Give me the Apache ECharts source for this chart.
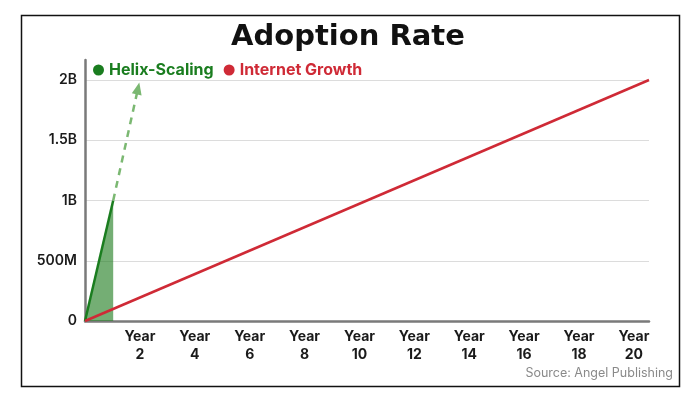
<!DOCTYPE html>
<html><head><meta charset="utf-8">
<script src="https://cdn.jsdelivr.net/npm/echarts@6/dist/echarts.min.js"></script>
<style>html,body{margin:0;padding:0;background:#fff}#c{width:696px;height:397px}</style>
</head><body><div id="c"></div>
<script>
// Data
const helixYears = [0, 1];
const helixValues = [0, 1e9];
const helixProjectionYears = [1, 1.88];
const helixProjectionValues = [1e9, 1.93e9];
const internetYears = [0, 20];
const internetValues = [0, 2e9];
const xTickLabels = [2, 4, 6, 8, 10, 12, 14, 16, 18, 20];
const yTickValues = [0, 5e8, 1e9, 1.5e9, 2e9];
const yTickLabels = ['0', '500M', '1B', '1.5B', '2B'];

const FONT = 'Inter';
const chart = echarts.init(document.getElementById('c'), null, {renderer: 'canvas'});
const zip = (a, b) => a.map((v, i) => [v, b[i]]);

chart.setOption({
  animation: false,
  backgroundColor: '#fff',
  title: {
    text: 'Adoption Rate', left: 'center', top: 18,
    textStyle: {fontFamily: 'DejaVu Sans', fontWeight: 'bold', fontSize: 29, color: '#111'}
  },
  legend: {
    left: 88, top: 57, icon: 'circle', itemWidth: 11, itemHeight: 11, itemGap: 10,
    textStyle: {fontFamily: FONT, fontWeight: 700, fontSize: 16},
    data: [
      {name: 'Helix-Scaling', textStyle: {color: '#1a7d1f'}},
      {name: 'Internet Growth', textStyle: {color: '#cf2a36'}}
    ]
  },
  grid: {left: 85, right: 47, top: 60, bottom: 76},
  xAxis: [
    {type: 'value', min: 0, max: 20, position: 'bottom',
      axisLine: {show: true, lineStyle: {color: '#7a7a7a', width: 2.5}},
      axisTick: {show: false}, axisLabel: {show: false}, splitLine: {show: false}},
    {type: 'value', min: 0, max: 20.55, interval: 2, position: 'bottom',
      axisLine: {show: false}, axisTick: {show: false}, splitLine: {show: false},
      axisLabel: {show: true, showMaxLabel: false, showMinLabel: false, margin: 7,
        fontFamily: FONT, fontWeight: 700, fontSize: 14, color: '#1a1a1a', lineHeight: 18,
        formatter: v => xTickLabels.indexOf(v) >= 0 ? 'Year\n' + v : ''}}
  ],
  yAxis: {
    type: 'value', min: 0, max: 2.166e9, interval: 5e8,
    axisLine: {show: true, lineStyle: {color: '#7a7a7a', width: 2.5}},
    axisTick: {show: false},
    splitLine: {show: true, showMinLine: false, showMaxLine: false, lineStyle: {color: '#dcdcdc', width: 1}},
    axisLabel: {showMaxLabel: false, margin: 8, fontFamily: FONT, fontWeight: 600, fontSize: 14, color: '#1a1a1a',
      formatter: v => { const i = yTickValues.indexOf(v); return i >= 0 ? yTickLabels[i] : ''; }}
  },
  series: [
    {name: 'Helix-Scaling', type: 'line', xAxisIndex: 0, data: zip(helixYears, helixValues),
      symbol: 'none', color: '#1a7d1f', lineStyle: {width: 2.5, color: '#1a7d1f'},
      areaStyle: {color: '#1e7d1e', opacity: 0.62}, z: 3,
      markLine: {silent: true, symbol: ['none', 'triangle'], symbolSize: [10, 12],
        label: {show: false},
        lineStyle: {type: [7, 6], width: 2.5, color: '#7bb872'},
        data: [[{coord: [helixProjectionYears[0], helixProjectionValues[0]]},
                {coord: [helixProjectionYears[1], helixProjectionValues[1]]}]]}},
    {name: 'Internet Growth', type: 'line', xAxisIndex: 0, data: zip(internetYears, internetValues),
      symbol: 'none', color: '#cf2a36', lineStyle: {width: 2.5, color: '#cf2a36'}, z: 4}
  ],
  graphic: [
    {type: 'rect', left: 19, top: 13, shape: {width: 658, height: 371},
      style: {fill: 'none', stroke: '#111', lineWidth: 1.5}, silent: true},
    {type: 'text', right: 23, top: 367,
      style: {text: 'Source: Angel Publishing', fontFamily: FONT, fontSize: 12.5, fill: '#8a8a8a'}}
  ]
});
</script></body></html>
